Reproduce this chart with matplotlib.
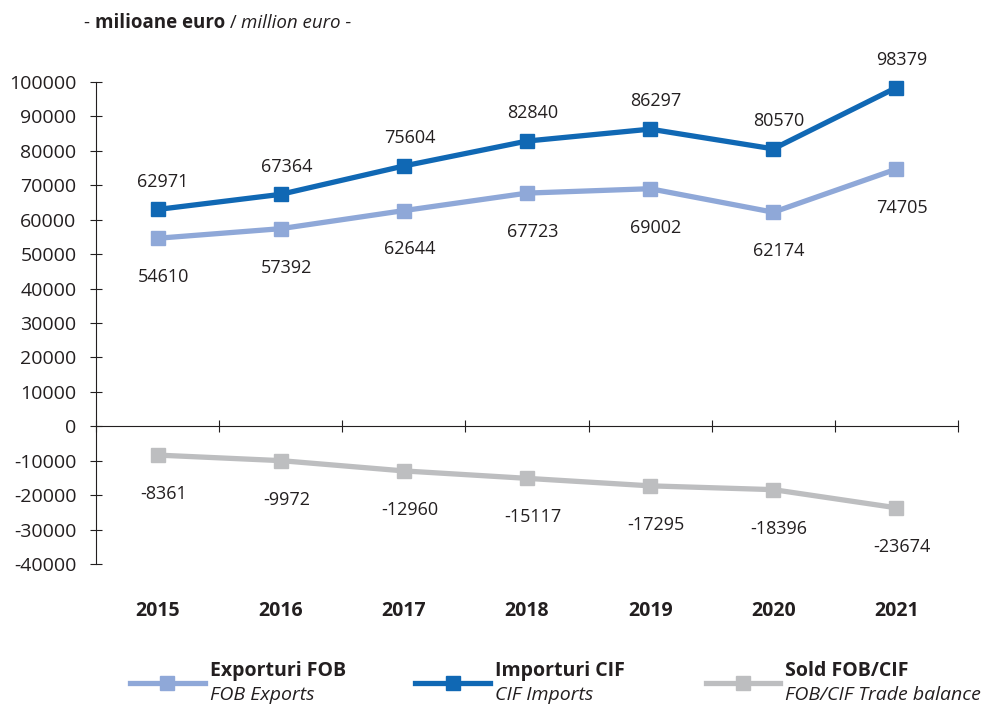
"""Romania foreign trade 2015-2021: FOB exports, CIF imports, FOB/CIF balance."""
import matplotlib
matplotlib.use('Agg')
import matplotlib.pyplot as plt
from matplotlib.lines import Line2D

plt.rcParams['font.family'] = ['Open Sans', 'DejaVu Sans']
plt.rcParams['axes.unicode_minus'] = False

# ── Data ──────────────────────────────────────────────────────────────────────
years   = ['2015', '2016', '2017', '2018', '2019', '2020', '2021']
exports = [54610, 57392, 62644, 67723, 69002, 62174, 74705]
imports = [62971, 67364, 75604, 82840, 86297, 80570, 98379]
balance = [-8361, -9972, -12960, -15117, -17295, -18396, -23674]

C_EXP = '#8fa8d8'
C_IMP = '#1068b4'
C_BAL = '#bdbec0'
TXT   = '#231f20'

# ── Plot ──────────────────────────────────────────────────────────────────────
fig = plt.figure(figsize=(9.84, 7.06), dpi=100)
ax = fig.add_axes([0.0976, 0.2011, 0.876, 0.6828])

x = range(len(years))
style = dict(lw=3.8, marker='s', ms=9.5, clip_on=False, solid_joinstyle='miter')
ax.plot(x, exports, color=C_EXP, **style)
ax.plot(x, imports, color=C_IMP, **style)
ax.plot(x, balance, color=C_BAL, **style)

lbl = dict(textcoords='offset points', ha='center', va='center',
           fontsize=13, color=TXT, annotation_clip=False)
for i in x:
    ax.annotate(f'{imports[i]}', (i, imports[i]), xytext=(4, 20), **lbl)
    ax.annotate(f'{exports[i]}', (i, exports[i]), xytext=(4, -28), **lbl)
    ax.annotate(f'{balance[i]}', (i, balance[i]), xytext=(4, -28), **lbl)
    ax.text(i, -0.098, years[i], transform=ax.get_xaxis_transform(),
            ha='center', va='center', fontsize=14, fontweight='bold', color=TXT)

ax.set_xlim(-0.5, len(years) - 0.5)
ax.set_ylim(-40000, 100000)
ax.set_yticks(range(-40000, 100001, 10000))
ax.set_xticks([i + 0.5 for i in range(-1, len(years))])
ax.set_xticklabels([])

for s in ['top', 'right']:
    ax.spines[s].set_visible(False)
ax.spines['bottom'].set_position(('data', 0))
for s in ['left', 'bottom']:
    ax.spines[s].set_color(TXT)
    ax.spines[s].set_linewidth(0.8)
ax.tick_params(axis='y', direction='inout', length=8, width=0.8, color=TXT,
               labelsize=14, labelcolor=TXT, pad=10)
ax.tick_params(axis='x', direction='inout', length=9, width=0.8, color=TXT)

# unit caption, pieces chained one after another
prev = fig.text(0.085, 0.967, '- ', ha='left', va='center', fontsize=13.5,
                color=TXT)
for txt, kw in [('milioane euro', dict(fontweight='bold')),
                (' / ', {}),
                ('million euro -', dict(style='italic'))]:
    prev = fig.add_artist(plt.Annotation(txt, xy=(1, 0.5), xycoords=prev,
                                         ha='left', va='center', fontsize=13.5,
                                         color=TXT, **kw))

# legend built by hand to get the two-line bold/italic labels
items = [(0.132, C_EXP, 'Exporturi FOB', 'FOB Exports'),
         (0.422, C_IMP, 'Importuri CIF', 'CIF Imports'),
         (0.717, C_BAL, 'Sold FOB/CIF', 'FOB/CIF Trade balance')]
for x0, c, bold, ital in items:
    fig.add_artist(Line2D([x0, x0 + 0.076], [0.033, 0.033], color=c, lw=3.8,
                          transform=fig.transFigure))
    fig.add_artist(Line2D([x0 + 0.038], [0.033], color=c, marker='s', ms=9.5,
                          transform=fig.transFigure))
    fig.text(x0 + 0.081, 0.049, bold, ha='left', va='center', fontsize=14,
             fontweight='bold', color=TXT)
    fig.text(x0 + 0.081, 0.016, ital, ha='left', va='center', fontsize=14,
             style='italic', color=TXT)

plt.savefig('out.png', dpi=100)
plt.close()
